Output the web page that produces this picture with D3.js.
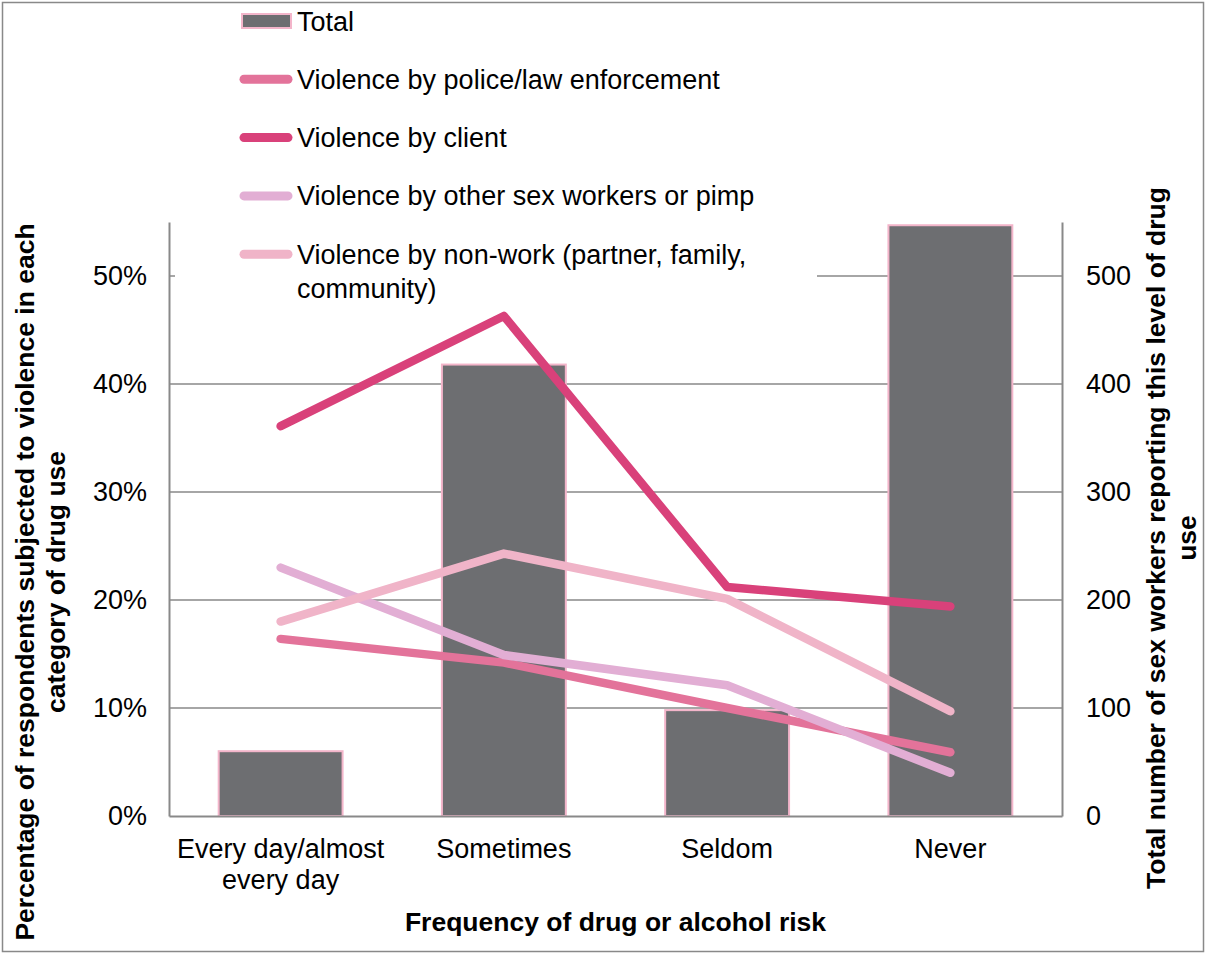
<!DOCTYPE html>
<html>
<head>
<meta charset="utf-8">
<script src="https://cdn.jsdelivr.net/npm/d3@7"></script>
<style>
  html, body { margin: 0; padding: 0; background: #fff; }
  svg { display: block; font-family: "Liberation Sans", Arial, sans-serif; }
</style>
</head>
<body>
<svg id="chart" width="1205" height="954"></svg>
<script>
// Drug/alcohol use frequency categories (x axis)
const categories = ["Every day/almost every day", "Sometimes", "Seldom", "Never"];
const categoryLines = [["Every day/almost", "every day"], ["Sometimes"], ["Seldom"], ["Never"]];

// Total number of respondents in each category (right axis)
const totalCounts = [60, 418, 98, 547];

// Share of respondents subjected to violence (%, left axis)
const policeViolence = [16.4, 14.2, 10.0, 5.9];
const clientViolence = [36.1, 46.3, 21.2, 19.4];
const peerViolence = [23.0, 14.9, 12.1, 4.0];
const nonWorkViolence = [18.0, 24.3, 20.1, 9.7];

const seriesNames = [
  "Violence by police/law enforcement",
  "Violence by client",
  "Violence by other sex workers or pimp",
  "Violence by non-work (partner, family, community)"
];
const seriesColors = ["#e3739a", "#d9417a", "#e2aed4", "#f0b4c8"];

const leftTicks = [0, 10, 20, 30, 40, 50];
const rightTicks = [0, 100, 200, 300, 400, 500];

const svg = d3.select("#chart");
const W = 1205, H = 954;
const plot = { left: 169, right: 1062, top: 222, bottom: 816 };

const x = d3.scaleBand().domain(categories).range([plot.left, plot.right]).paddingInner(0.445).paddingOuter(0.2225);
const yL = d3.scaleLinear().domain([0, 55]).range([plot.bottom, plot.top]);
const yR = d3.scaleLinear().domain([0, 550]).range([plot.bottom, plot.top]);
const cx = c => x(c) + x.bandwidth() / 2;

const axisGrey = "#898989";
const textSize = 27;
const titleSize = 26.5;

// outer frame
svg.append("rect").attr("x", 2.5).attr("y", 2.5).attr("width", W - 4).attr("height", H - 5)
  .attr("fill", "#fff").attr("stroke", axisGrey).attr("stroke-width", 1.5);

// horizontal gridlines
svg.append("g").selectAll("line").data(leftTicks.filter(t => t > 0)).join("line")
  .attr("x1", plot.left).attr("x2", plot.right)
  .attr("y1", d => yL(d)).attr("y2", d => yL(d))
  .attr("stroke", axisGrey).attr("stroke-width", 1.5);

// bars: total respondents
svg.append("g").selectAll("rect").data(totalCounts).join("rect")
  .attr("x", (d, i) => x(categories[i]))
  .attr("width", x.bandwidth())
  .attr("y", d => yR(d))
  .attr("height", d => yR(0) - yR(d))
  .attr("fill", "#6d6e71")
  .attr("stroke", "#f3b5ca").attr("stroke-width", 2);

// violence lines
const lineGen = d3.line().x((d, i) => cx(categories[i])).y(d => yL(d));
[policeViolence, clientViolence, peerViolence, nonWorkViolence].forEach((vals, k) => {
  svg.append("path").datum(vals)
    .attr("d", lineGen)
    .attr("fill", "none")
    .attr("stroke", seriesColors[k])
    .attr("stroke-width", 8.5)
    .attr("stroke-linecap", "round")
    .attr("stroke-linejoin", "round");
});

// axes
const leftAxis = svg.append("g").attr("transform", `translate(${plot.left},0)`)
  .call(d3.axisLeft(yL).tickValues(leftTicks).tickSize(0).tickPadding(22).tickFormat(d => d + "%"));
const rightAxis = svg.append("g").attr("transform", `translate(${plot.right},0)`)
  .call(d3.axisRight(yR).tickValues(rightTicks).tickSize(0).tickPadding(24).tickFormat(d3.format("d")));
const bottomAxis = svg.append("g").attr("transform", `translate(0,${plot.bottom})`)
  .call(d3.axisBottom(x).tickSize(0).tickFormat(""));
[leftAxis, rightAxis, bottomAxis].forEach(g => {
  g.select(".domain").attr("stroke", axisGrey).attr("stroke-width", 2);
  g.selectAll("text").attr("font-size", textSize).attr("fill", "#000")
    .attr("font-family", "'Liberation Sans', Arial, sans-serif");
});

// category labels (wrapped)
const catG = svg.append("g");
categories.forEach((c, i) => {
  const t = catG.append("text").attr("x", cx(c)).attr("y", 858)
    .attr("text-anchor", "middle").attr("font-size", textSize);
  categoryLines[i].forEach((ln, j) => {
    t.append("tspan").attr("x", cx(c)).attr("dy", j === 0 ? 0 : 31).text(ln);
  });
});

// axis titles
svg.append("text").attr("x", (plot.left + plot.right) / 2).attr("y", 931)
  .attr("text-anchor", "middle").attr("font-size", titleSize).attr("font-weight", "bold")
  .text("Frequency of drug or alcohol risk");

const leftTitle = svg.append("text").attr("transform", "translate(34,582) rotate(-90)")
  .attr("text-anchor", "middle").attr("font-size", titleSize).attr("font-weight", "bold");
leftTitle.append("tspan").attr("x", 0).attr("y", 0).text("Percentage of respondents subjected to violence in each");
leftTitle.append("tspan").attr("x", 0).attr("y", 31).text("category of drug use");

const rightTitle = svg.append("text").attr("transform", "translate(1165,538) rotate(-90)")
  .attr("text-anchor", "middle").attr("font-size", titleSize).attr("font-weight", "bold");
rightTitle.append("tspan").attr("x", 0).attr("y", 0).text("Total number of sex workers reporting this level of drug");
rightTitle.append("tspan").attr("x", 0).attr("y", 31).text("use");

// legend (white box over the plot)
const legend = svg.append("g");
legend.append("rect").attr("x", 175).attr("y", 4).attr("width", 642).attr("height", 300).attr("fill", "#fff");
const legendRows = [
  { name: "Total", type: "bar" },
  ...seriesNames.map((n, k) => ({ name: n, type: "line", color: seriesColors[k] }))
];
const legendLines = [["Total"], ["Violence by police/law enforcement"], ["Violence by client"],
  ["Violence by other sex workers or pimp"], ["Violence by non-work (partner, family,", "community)"]];
legendRows.forEach((r, i) => {
  const yc = 21 + i * 58.3;
  if (r.type === "bar") {
    legend.append("rect").attr("x", 242).attr("y", yc - 7).attr("width", 49).attr("height", 14)
      .attr("fill", "#6d6e71").attr("stroke", "#f3b5ca").attr("stroke-width", 2);
  } else {
    legend.append("line").attr("x1", 244).attr("x2", 288).attr("y1", yc).attr("y2", yc)
      .attr("stroke", r.color).attr("stroke-width", 9).attr("stroke-linecap", "round");
  }
  const t = legend.append("text").attr("x", 297).attr("y", yc + 9.5).attr("font-size", textSize);
  legendLines[i].forEach((ln, j) => t.append("tspan").attr("x", 297).attr("dy", j === 0 ? 0 : 34).text(ln));
});
</script>
</body>
</html>
